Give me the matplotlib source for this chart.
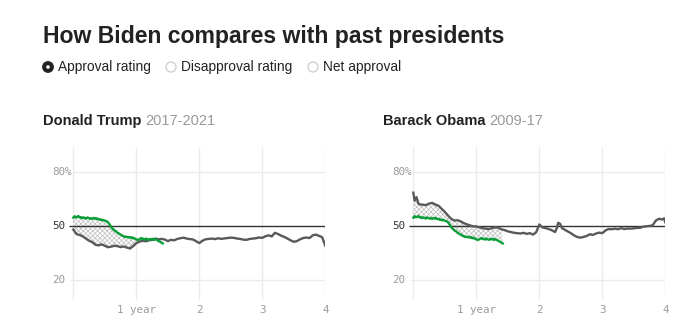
import numpy as np
import matplotlib
matplotlib.use('Agg')
from matplotlib import pyplot as plt
from matplotlib.patches import Circle

plt.rcParams['hatch.color'] = '#bdbdbd'
plt.rcParams['hatch.linewidth'] = 0.5

# Biden approval, sampled every ~week (years since inauguration)
biden_x = [round(i * 0.02, 2) for i in range(72)]
biden_y = [54.6, 55.4, 54.8, 55.1, 55.5, 54.7, 54.9, 54.3, 54.8, 54.4,
           54.1, 54.7, 54.5, 54.0, 54.3, 53.9, 54.5, 54.1, 54.4, 53.8,
           53.9, 53.4, 53.6, 53.1, 53.3, 52.9, 52.7, 52.4, 51.6, 50.6,
           49.4, 48.6, 48.0, 47.3, 47.0, 46.2, 45.9, 45.3, 45.1, 44.5,
           44.3, 43.9, 44.1, 43.7, 43.9, 43.5, 43.8, 43.2, 43.4, 42.8,
           42.6, 42.2, 42.5, 42.9, 43.3, 42.7, 42.9, 42.4, 43.0, 42.6,
           42.3, 42.8, 42.5, 42.9, 42.2, 42.6, 42.4, 41.9, 41.5, 41.2,
           40.7, 40.3]

trump_x = [i * 0.05 for i in range(81)]
trump_y = [48.0, 45.5, 45.0, 44.2, 43.0, 41.8, 41.0, 39.6, 39.2, 39.8,
           39.0, 38.2, 38.5, 39.0, 38.8, 38.3, 38.6, 38.0, 37.5, 38.8,
           40.5, 41.3, 41.8, 41.5, 42.0, 42.3, 43.0, 42.6, 42.8, 42.5,
           41.6, 42.3, 42.0, 42.8, 43.2, 43.5, 43.0, 42.7, 42.5, 41.5,
           40.5, 41.8, 42.6, 42.8, 43.0, 42.7, 43.2, 42.8, 43.1, 43.3,
           43.5, 43.4, 43.0, 42.8, 42.4, 42.3, 42.8, 43.0, 43.2, 43.6,
           43.4, 44.3, 44.8, 44.2, 46.2, 45.5, 44.6, 43.9, 43.0, 42.0,
           41.2, 41.6, 42.6, 43.3, 43.6, 43.3, 44.8, 45.2, 44.5, 43.8, 39.0]

obama_x = [0.00, 0.02, 0.05, 0.08, 0.10, 0.15, 0.20, 0.25, 0.30, 0.35, 0.40, 0.45,
           0.50, 0.55, 0.60, 0.65, 0.70, 0.75, 0.80, 0.85, 0.90, 0.95, 1.00, 1.05,
           1.10, 1.15, 1.20, 1.25, 1.30, 1.35, 1.40, 1.45, 1.50, 1.55, 1.60, 1.65,
           1.70, 1.75, 1.80, 1.85, 1.90, 1.95, 2.00, 2.05, 2.10, 2.15, 2.20, 2.25,
           2.28, 2.30, 2.33, 2.36, 2.40, 2.45, 2.50, 2.55, 2.60, 2.65, 2.70, 2.75,
           2.80, 2.85, 2.90, 2.95, 3.00, 3.05, 3.10, 3.15, 3.20, 3.25, 3.30, 3.35,
           3.40, 3.45, 3.50, 3.55, 3.60, 3.65, 3.70, 3.75, 3.80, 3.85, 3.90, 3.95,
           3.98, 4.00]
obama_y = [68.5, 64.0, 66.0, 62.5, 62.0, 61.8, 61.6, 62.4, 62.8, 61.9, 61.2, 59.5,
           57.8, 55.8, 54.0, 53.0, 53.2, 52.6, 51.6, 50.9, 50.3, 49.8, 49.7, 49.2,
           48.8, 48.5, 48.3, 48.8, 49.3, 49.0, 48.1, 47.7, 47.0, 46.6, 46.2, 46.0,
           45.8, 46.2, 45.6, 46.0, 45.2, 46.5, 50.8, 49.2, 48.8, 48.3, 47.6, 46.6,
           49.0, 51.8, 51.2, 48.8, 48.0, 47.0, 46.0, 44.8, 43.9, 43.5, 43.9, 44.4,
           45.4, 45.0, 45.8, 46.3, 46.0, 47.5, 48.3, 48.2, 48.5, 48.2, 48.8, 48.3,
           48.6, 48.5, 48.7, 48.9, 49.0, 49.6, 49.8, 50.0, 50.4, 53.0, 54.0, 53.6,
           54.2, 52.0]

presidents = [('Donald Trump', '2017-2021', trump_x, trump_y),
              ('Barack Obama', '2009-17', obama_x, obama_y)]

y_ticks = [20, 50, 80]
x_ticks = [1, 2, 3, 4]
x_tick_labels = ['1 year', '2', '3', '4']

W, H = 691, 330
fig = plt.figure(figsize=(W / 100, H / 100), dpi=100)

# overlay in pixel coordinates for title, radio buttons and panel headings
top = fig.add_axes([0, 0, 1, 1])
top.set_xlim(0, W)
top.set_ylim(H, 0)
top.axis('off')
top.text(43, 37, 'How Biden compares with past presidents', fontsize=16.6,
         fontweight='bold', color='#222222', va='center', ha='left',
         family='Liberation Sans')

options = [('Approval rating', 48, True), ('Disapproval rating', 171, False),
           ('Net approval', 313, False)]
for label, cx, selected in options:
    if selected:
        top.add_patch(Circle((cx, 67), 5.2, facecolor='#222222', edgecolor='#222222'))
        top.add_patch(Circle((cx, 67), 1.8, facecolor='white', edgecolor='none'))
    else:
        top.add_patch(Circle((cx, 67), 5.0, facecolor='white', edgecolor='#cccccc', lw=0.9))
    top.text(cx + 10, 67, label, fontsize=9.9, color='#222222', va='center',
             ha='left', family='Liberation Sans')

for i, (name, years, px, py) in enumerate(presidents):
    x0 = 43 + 340 * i
    t = top.text(x0, 121, name, fontsize=10.5, fontweight='bold', color='#222222',
                 va='center', ha='left', family='Liberation Sans')
    fig.canvas.draw()
    bb = t.get_window_extent()
    top.text(x0 + bb.width + 4, 121, years, fontsize=10.5, color='#999999',
             va='center', ha='left', family='Liberation Sans')

    left = 68.3 + 340 * i
    ax = fig.add_axes([left / W, 30 / H, 257 / W, 153.3 / H])
    ax.set_xlim(-0.08, 4.0)
    ax.set_ylim(8.9, 94)
    for s in ax.spines.values():
        s.set_visible(False)
    ax.set_xticks([])
    ax.set_yticks([])

    # grid
    for xv in [0] + x_ticks:
        ax.axvline(xv, color='#ebebeb', lw=1, zorder=0)
    for yv in y_ticks:
        if yv == 50:
            ax.hlines(yv, -0.07, 4.0, color='#333333', lw=1, zorder=3)
        elif yv == 80:
            ax.hlines(yv, 0.0, 4.0, color='#ebebeb', lw=1, zorder=0)
        else:
            ax.hlines(yv, -0.05, 4.0, color='#ebebeb', lw=1, zorder=0)
        lab = f'{yv}%' if yv == 80 else str(yv)
        ax.text(-0.063, yv, lab, transform=ax.get_yaxis_transform(),
                family='DejaVu Sans Mono', fontsize=7.8, ha='left', va='center',
                color='#333333' if yv == 50 else '#9a9a9a')
    for xv, lab in zip(x_ticks, x_tick_labels):
        ax.text(xv, -0.065, lab, transform=ax.get_xaxis_transform(),
                family='DejaVu Sans Mono', fontsize=7.8, ha='center', va='center',
                color='#9a9a9a')

    # hatched gap between Biden and the earlier president
    px_a = np.array(px)
    py_a = np.array(py)
    keep = px_a <= biden_x[-1]
    poly_x = list(biden_x) + list(px_a[keep][::-1])
    poly_y = list(biden_y) + list(py_a[keep][::-1])
    ax.fill(poly_x, poly_y, facecolor='none', edgecolor='#bdbdbd', hatch='xxxxxxx',
            lw=0, zorder=1)

    ax.plot(px, py, color='#595959', lw=1.7, zorder=4)
    ax.plot(biden_x, biden_y, color='#0a9e38', lw=1.7, zorder=5)

fig.savefig('out.png', dpi=100)
